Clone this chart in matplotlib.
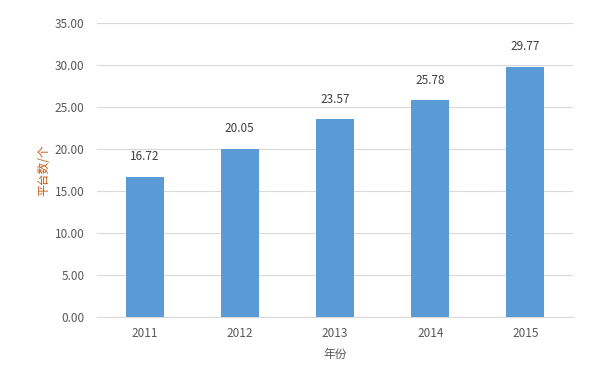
import matplotlib.pyplot as plt

plt.rcParams['font.family'] = ['Noto Sans CJK SC', 'DejaVu Sans']

years = ['2011', '2012', '2013', '2014', '2015']
values = [16.72, 20.05, 23.57, 25.78, 29.77]

fig = plt.figure(figsize=(5.95, 3.77), dpi=100)
ax = fig.add_axes([0.163, 0.159, 0.8, 0.78])

x = range(len(years))
bars = ax.bar(x, values, width=0.4, color='#5B9BD5', zorder=3)

for b, v in zip(bars, values):
    ax.text(b.get_x() + b.get_width() / 2, v + 1.6, f'{v:.2f}',
            ha='center', va='bottom', fontsize=8.5, color='#404040')

ax.set_xlim(-0.5, 4.5)
ax.set_ylim(0, 35)
ax.set_yticks(range(0, 36, 5))
ax.set_yticklabels([f'{t:.2f}' for t in range(0, 36, 5)])
ax.set_xticks(list(x))
ax.set_xticklabels(years)
ax.tick_params(axis='both', length=0, labelsize=8.5, labelcolor='#595959')
ax.tick_params(axis='x', pad=7)
ax.tick_params(axis='y', pad=9)

ax.grid(axis='y', color='#D9D9D9', linewidth=0.8, zorder=0)
for s in ['top', 'right', 'left']:
    ax.spines[s].set_visible(False)
ax.spines['bottom'].set_color('#D9D9D9')

ax.set_ylabel('平台数/个', fontsize=8.5, color='#C55A11', labelpad=3)
ax.set_xlabel('年份', fontsize=8.5, color='#595959', labelpad=6)

plt.savefig('out.png', dpi=100)
